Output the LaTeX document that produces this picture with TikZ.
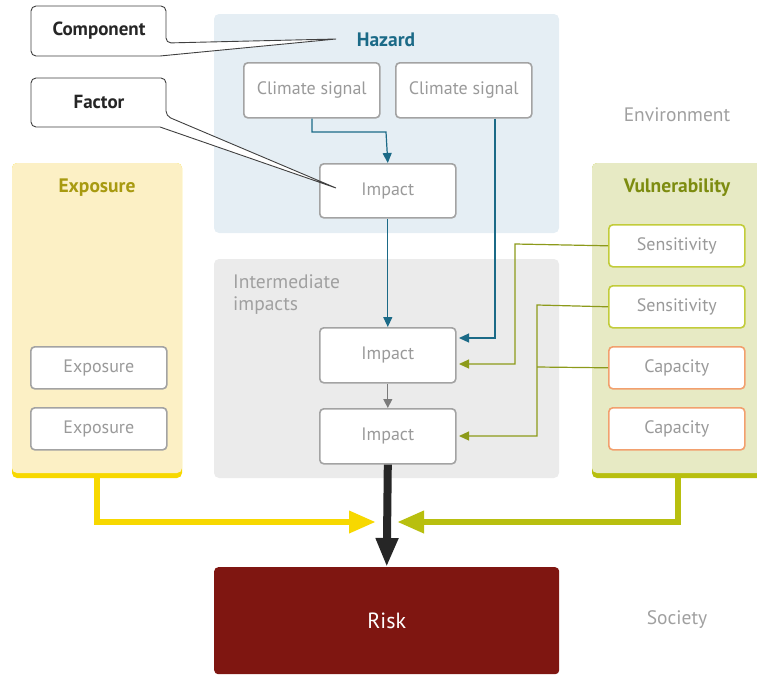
\documentclass[tikz,border=0pt]{standalone}
\usepackage{fontspec}
\setmainfont{PT Sans}
\usetikzlibrary{arrows.meta}
\definecolor{hazbg}{HTML}{E5EEF4}
\definecolor{grybg}{HTML}{EBEBEB}
\definecolor{boxln}{HTML}{A3A3A3}
\definecolor{boxtx}{HTML}{9A9A9A}
\definecolor{teal}{HTML}{1B6A87}
\definecolor{olive}{HTML}{8C9A1A}
\definecolor{expbg}{HTML}{FCF0C5}
\definecolor{expln}{HTML}{F7D800}
\definecolor{exptx}{HTML}{A89A10}
\definecolor{vulbg}{HTML}{E7EAC4}
\definecolor{vulln}{HTML}{B8BF0F}
\definecolor{vultx}{HTML}{7D8C10}
\definecolor{sensln}{HTML}{C2CC3A}
\definecolor{capln}{HTML}{F2A06E}
\definecolor{riskbg}{HTML}{7F1611}
\definecolor{envtx}{HTML}{A0A0A0}
\tikzset{
  panel/.style={rounded corners=5pt},
  itembox/.style={draw=boxln, line width=1.6pt, fill=white, rounded corners=4pt, inner sep=0pt, anchor=north west},
  itemtext/.style={text=boxtx, font=\fontsize{18}{20}\selectfont},
  sensbox/.style={itembox, draw=sensln},
  capbox/.style={itembox, draw=capln},
  title/.style={font=\bfseries\fontsize{19.5}{22}\selectfont},
  label/.style={text=envtx, font=\fontsize{19.5}{22}\selectfont},
  tealarr/.style={draw=teal, line width=1.2pt, -{Triangle[length=10pt,width=9pt]}},
  olivearr/.style={draw=olive, line width=1.2pt, -{Triangle[length=10pt,width=9pt]}},
  oliveln/.style={draw=olive, line width=1.2pt},
  callout/.style={draw=black!75, line width=0.9pt, fill=white},
  calltext/.style={font=\bfseries\fontsize{19}{21}\selectfont, text=black!85}
}
\begin{document}
\begin{tikzpicture}[x=1pt,y=-1pt]
\useasboundingbox (0,0) rectangle (757,675);
\clip (0,0) rectangle (757,675);
% panels
\fill[hazbg,panel] (214,14) rectangle (559,233);
\fill[grybg,panel] (214,259) rectangle (559,478);
\fill[expln,panel] (12,163) rectangle (182,478);
\fill[expbg,panel] (12,163) rectangle (182,473);
\fill[vulln,panel] (592,163) rectangle (775,478);
\fill[vulbg,panel] (592,163) rectangle (775,473);
% titles and labels
\node[title, text=teal] (hazt) at (386,40) {Hazard};
\node[title, text=exptx] (expt) at (97,188) {Exposure};
\node[title, text=vultx] (vult) at (677,188) {Vulnerability};
\node[label] (env) at (677,115) {Environment};
\node[label] (soc) at (677,620) {Society};
\node[label, align=left, anchor=north west, inner sep=0pt, font=\fontsize{19.5}{22}\selectfont] (inter) at (233,274) {Intermediate\\impacts};
% boxes
\node[itembox, minimum width=136pt, minimum height=55pt] (cs1) at (243,62) {};
\node[itemtext] (cs1t) at (cs1.center) {Climate signal};
\node[itembox, minimum width=136pt, minimum height=55pt] (cs2) at (395,62) {};
\node[itemtext] (cs2t) at (cs2.center) {Climate signal};
\node[itembox, minimum width=136pt, minimum height=54pt] (imp1) at (319,163) {};
\node[itemtext] (imp1t) at (imp1.center) {Impact};
\node[itembox, minimum width=136pt, minimum height=55pt] (imp2) at (319,327) {};
\node[itemtext] (imp2t) at (imp2.center) {Impact};
\node[itembox, minimum width=136pt, minimum height=55pt] (imp3) at (319,408) {};
\node[itemtext] (imp3t) at (imp3.center) {Impact};
\node[itembox, minimum width=136pt, minimum height=42pt] (ex1) at (30,346) {};
\node[itemtext] (ex1t) at (ex1.center) {Exposure};
\node[itembox, minimum width=136pt, minimum height=42pt] (ex2) at (30,407) {};
\node[itemtext] (ex2t) at (ex2.center) {Exposure};
\node[sensbox, minimum width=136pt, minimum height=42pt] (se1) at (608,224) {};
\node[itemtext] (se1t) at (se1.center) {Sensitivity};
\node[sensbox, minimum width=136pt, minimum height=42pt] (se2) at (608,285) {};
\node[itemtext] (se2t) at (se2.center) {Sensitivity};
\node[capbox, minimum width=136pt, minimum height=42pt] (ca1) at (608,346) {};
\node[itemtext] (ca1t) at (ca1.center) {Capacity};
\node[capbox, minimum width=136pt, minimum height=42pt] (ca2) at (608,407) {};
\node[itemtext] (ca2t) at (ca2.center) {Capacity};
% risk
\node[fill=riskbg, rounded corners=4pt, minimum width=345pt, minimum height=107pt, anchor=north west, inner sep=0pt] (risk) at (214,567) {};
\node[text=white, font=\fontsize{22}{24}\selectfont] (riskt) at (risk.center) {Risk};
% coordinates
\coordinate (c1a) at (312,132);
\coordinate (c1b) at (386,132);
\coordinate (c2a) at (495,338);
\coordinate (s1a) at (515,244);
\coordinate (s1b) at (515,364);
\coordinate (s2a) at (537,305);
\coordinate (s2b) at (537,436);
\coordinate (ca1a) at (537,367);
\coordinate (t2a) at (459,338);
\coordinate (t2b) at (459,364);
\coordinate (t3) at (459,436);
\coordinate (ey1) at (97,478);
\coordinate (ey2) at (97,522);
\coordinate (ey3) at (376,522);
\coordinate (vy1) at (678,478);
\coordinate (vy2) at (678,522);
\coordinate (vy3) at (397,522);
% connectors
\draw[tealarr] (cs1.south -| c1a) -- (c1a) -- (c1b) -- (imp1.north);
\draw[tealarr] (imp1.south) -- (imp2.north);
\draw[tealarr] (cs2.south -| c2a) -- (c2a) -- (t2a);
\draw[draw=boxtx!80!black, line width=1.2pt, -{Triangle[length=9pt,width=9pt]}] (imp2.south) -- (imp3.north);
\draw[olivearr] (se1.west) -- (s1a) -- (s1b) -- (t2b);
\draw[olivearr] (se2.west) -- (s2a) -- (s2b) -- (t3);
\draw[oliveln] (ca1.west) -- (ca1a);
\draw[draw=expln, line width=6.5pt, -{Triangle[length=27pt,width=21pt]}] (ey1) -- (ey2) -- (ey3);
\draw[draw=vulln, line width=6.5pt, -{Triangle[length=27pt,width=21pt]}] (vy1) -- (vy2) -- (vy3);
\draw[draw=black!85, line width=8pt, -{Triangle[length=29pt,width=21pt]}] (imp3.south) -- (risk.north);
% callouts
\draw[callout] (31,11) [rounded corners=5pt] -- (31,6) -- (166,6) -- (166,43) [sharp corners] -- (336,39) -- (160,56) [rounded corners=5pt] -- (31,56) -- (31,11);
\node[calltext] (comp) at (99,31) {Component};
\draw[callout] (31,83) [rounded corners=5pt] -- (31,78) -- (166,78) -- (166,116) [sharp corners] -- (336,188) -- (160,127) [rounded corners=5pt] -- (31,127) -- (31,83);
\node[calltext] (fact) at (99,102) {Factor};
\end{tikzpicture}
\end{document}
